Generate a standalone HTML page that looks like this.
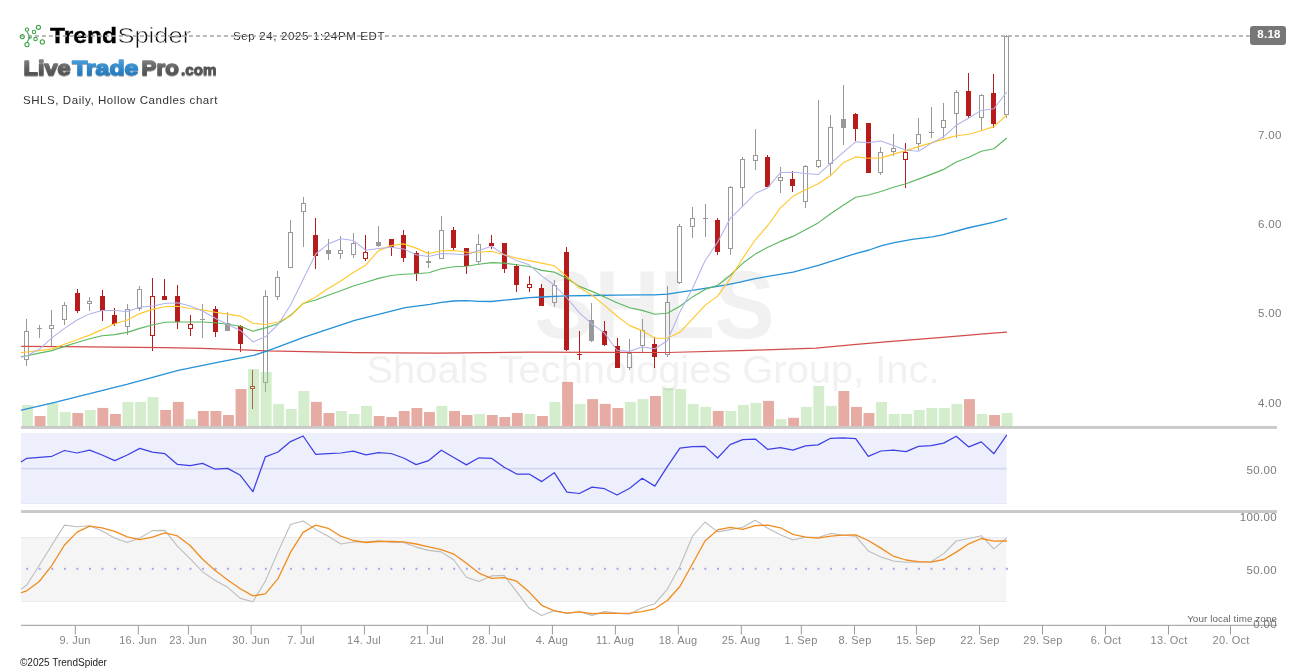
<!DOCTYPE html>
<html><head><meta charset="utf-8"><title>SHLS chart</title>
<style>
html,body{margin:0;padding:0;background:#fff;}
body{width:1307px;height:672px;position:relative;overflow:hidden;font-family:"Liberation Sans",sans-serif;}
.t{will-change:transform;position:absolute;white-space:nowrap;line-height:14px;font-size:11px;color:#777;}
.ax{font-size:11.5px;letter-spacing:0.35px;color:#7a7a7a;}
.r{text-align:right;}
.xl{width:80px;text-align:center;font-size:11px;letter-spacing:0.2px;color:#858585;}
.tz{text-align:right;font-size:9.8px;color:#666;letter-spacing:0.1px;}
.pl{text-align:center;color:#fff;font-weight:bold;font-size:11.5px;letter-spacing:0.3px;}
.cp{font-size:10px;color:#222;}
.ttl{font-size:11.5px;color:#333;letter-spacing:0.57px;}
.dt{font-size:11.5px;color:#333;letter-spacing:0.64px;}
#logo{position:absolute;left:0;top:0;will-change:transform;}
</style></head><body>
<svg width="1307" height="672" viewBox="0 0 1307 672" style="position:absolute;left:0;top:0;will-change:transform">
<defs>
<linearGradient id="gg" x1="0" y1="0" x2="0" y2="1"><stop offset="0" stop-color="#8e8e8e"/><stop offset="0.55" stop-color="#5e5e5e"/><stop offset="1" stop-color="#4a4a4a"/></linearGradient>
<linearGradient id="gb" x1="0" y1="0" x2="0" y2="1"><stop offset="0" stop-color="#55a9e0"/><stop offset="0.55" stop-color="#2f86c8"/><stop offset="1" stop-color="#2170b0"/></linearGradient>
<filter id="sh" x="-5%" y="-20%" width="110%" height="150%"><feGaussianBlur in="SourceAlpha" stdDeviation="0.7"/><feOffset dx="0" dy="0.8" result="b"/><feComponentTransfer><feFuncA type="linear" slope="0.35"/></feComponentTransfer><feMerge><feMergeNode/><feMergeNode in="SourceGraphic"/></feMerge></filter>
</defs>
<rect width="1307" height="672" fill="#ffffff"/>
<g id="wm" font-family="Liberation Sans, sans-serif" text-anchor="middle">
<text x="654.5" y="337.6" font-size="97" font-weight="bold" fill="#f1f1f1" textLength="240.5" lengthAdjust="spacingAndGlyphs">SHLS</text>
<text x="653" y="383.3" font-size="38" fill="#f1f1f1" textLength="573" lengthAdjust="spacingAndGlyphs">Shoals Technologies Group, Inc.</text>
</g>
<g id="rsi">
<rect x="21" y="433.6" width="985.5" height="70.4" fill="#edf0fc"/>
<rect x="21" y="467.8" width="985.5" height="1.7" fill="#d3d6ee"/>
<rect x="21" y="433.6" width="985.5" height="0.8" fill="#e3e6f7"/>
<rect x="21" y="503.2" width="985.5" height="0.8" fill="#e3e6f7"/>
<path d="M21.4 461.8 L26.8 458.3 L39.3 457.3 L51.9 456.3 L64.5 450.5 L77 453 L89.6 450.2 L102.1 455 L114.7 460.6 L127.3 455 L139.8 448.4 L152.4 452.2 L164.9 453.7 L177.5 464.4 L190.1 465.6 L202.6 463.4 L215.2 469.2 L227.7 468.4 L240.3 475.3 L252.9 491.7 L265.4 456.8 L278 452 L290.5 441.6 L303.1 436 L315.7 454.3 L328.2 453.7 L340.8 453 L353.3 451.2 L365.9 454.8 L378.5 452.7 L391 453.5 L403.6 458 L416.1 464.6 L428.7 460.6 L441.3 450.2 L453.8 457.5 L466.4 464.9 L478.9 457.8 L491.5 458.3 L504.1 467.2 L516.6 474 L529.2 474 L541.7 481.6 L554.3 472.7 L566.9 492.2 L579.4 493.5 L592 487.1 L604.5 488.7 L617.1 495 L629.7 488.2 L642.2 478.3 L654.8 486.1 L667.3 466.6 L679.9 448.2 L692.5 446.7 L705 446.4 L717.6 458 L730.1 444.6 L742.7 439.6 L755.3 439.1 L767.8 449.4 L780.4 447.7 L792.9 450.2 L805.5 445.9 L818.1 444.9 L830.6 438.3 L843.2 437.8 L855.7 438.6 L868.3 456.3 L880.9 451 L893.4 450.2 L906 451.7 L918.5 446.4 L931.1 445.6 L943.7 443.1 L956.2 436.3 L968.8 446.9 L981.3 441.9 L993.9 453.7 L1006.5 435.3" fill="none" stroke="#3f3fe6" stroke-width="1.25" stroke-linejoin="round" stroke-linecap="round" />
</g>
<g id="stoch">
<rect x="21" y="537.2" width="985.5" height="64.6" fill="#f5f5f5"/>
<rect x="21" y="537.2" width="985.5" height="0.8" fill="#e6e6f2"/>
<rect x="21" y="601" width="985.5" height="0.8" fill="#e6e6f2"/>
<rect x="26.2" y="567.8" width="2" height="2" fill="#a6a6f0"/>
<rect x="38.7" y="567.8" width="2" height="2" fill="#a6a6f0"/>
<rect x="51.3" y="567.8" width="2" height="2" fill="#a6a6f0"/>
<rect x="63.9" y="567.8" width="2" height="2" fill="#a6a6f0"/>
<rect x="76.4" y="567.8" width="2" height="2" fill="#a6a6f0"/>
<rect x="89" y="567.8" width="2" height="2" fill="#a6a6f0"/>
<rect x="101.5" y="567.8" width="2" height="2" fill="#a6a6f0"/>
<rect x="114.1" y="567.8" width="2" height="2" fill="#a6a6f0"/>
<rect x="126.7" y="567.8" width="2" height="2" fill="#a6a6f0"/>
<rect x="139.2" y="567.8" width="2" height="2" fill="#a6a6f0"/>
<rect x="151.8" y="567.8" width="2" height="2" fill="#a6a6f0"/>
<rect x="164.3" y="567.8" width="2" height="2" fill="#a6a6f0"/>
<rect x="176.9" y="567.8" width="2" height="2" fill="#a6a6f0"/>
<rect x="189.5" y="567.8" width="2" height="2" fill="#a6a6f0"/>
<rect x="202" y="567.8" width="2" height="2" fill="#a6a6f0"/>
<rect x="214.6" y="567.8" width="2" height="2" fill="#a6a6f0"/>
<rect x="227.1" y="567.8" width="2" height="2" fill="#a6a6f0"/>
<rect x="239.7" y="567.8" width="2" height="2" fill="#a6a6f0"/>
<rect x="252.3" y="567.8" width="2" height="2" fill="#a6a6f0"/>
<rect x="264.8" y="567.8" width="2" height="2" fill="#a6a6f0"/>
<rect x="277.4" y="567.8" width="2" height="2" fill="#a6a6f0"/>
<rect x="289.9" y="567.8" width="2" height="2" fill="#a6a6f0"/>
<rect x="302.5" y="567.8" width="2" height="2" fill="#a6a6f0"/>
<rect x="315.1" y="567.8" width="2" height="2" fill="#a6a6f0"/>
<rect x="327.6" y="567.8" width="2" height="2" fill="#a6a6f0"/>
<rect x="340.2" y="567.8" width="2" height="2" fill="#a6a6f0"/>
<rect x="352.7" y="567.8" width="2" height="2" fill="#a6a6f0"/>
<rect x="365.3" y="567.8" width="2" height="2" fill="#a6a6f0"/>
<rect x="377.9" y="567.8" width="2" height="2" fill="#a6a6f0"/>
<rect x="390.4" y="567.8" width="2" height="2" fill="#a6a6f0"/>
<rect x="403" y="567.8" width="2" height="2" fill="#a6a6f0"/>
<rect x="415.5" y="567.8" width="2" height="2" fill="#a6a6f0"/>
<rect x="428.1" y="567.8" width="2" height="2" fill="#a6a6f0"/>
<rect x="440.7" y="567.8" width="2" height="2" fill="#a6a6f0"/>
<rect x="453.2" y="567.8" width="2" height="2" fill="#a6a6f0"/>
<rect x="465.8" y="567.8" width="2" height="2" fill="#a6a6f0"/>
<rect x="478.3" y="567.8" width="2" height="2" fill="#a6a6f0"/>
<rect x="490.9" y="567.8" width="2" height="2" fill="#a6a6f0"/>
<rect x="503.5" y="567.8" width="2" height="2" fill="#a6a6f0"/>
<rect x="516" y="567.8" width="2" height="2" fill="#a6a6f0"/>
<rect x="528.6" y="567.8" width="2" height="2" fill="#a6a6f0"/>
<rect x="541.1" y="567.8" width="2" height="2" fill="#a6a6f0"/>
<rect x="553.7" y="567.8" width="2" height="2" fill="#a6a6f0"/>
<rect x="566.3" y="567.8" width="2" height="2" fill="#a6a6f0"/>
<rect x="578.8" y="567.8" width="2" height="2" fill="#a6a6f0"/>
<rect x="591.4" y="567.8" width="2" height="2" fill="#a6a6f0"/>
<rect x="603.9" y="567.8" width="2" height="2" fill="#a6a6f0"/>
<rect x="616.5" y="567.8" width="2" height="2" fill="#a6a6f0"/>
<rect x="629.1" y="567.8" width="2" height="2" fill="#a6a6f0"/>
<rect x="641.6" y="567.8" width="2" height="2" fill="#a6a6f0"/>
<rect x="654.2" y="567.8" width="2" height="2" fill="#a6a6f0"/>
<rect x="666.7" y="567.8" width="2" height="2" fill="#a6a6f0"/>
<rect x="679.3" y="567.8" width="2" height="2" fill="#a6a6f0"/>
<rect x="691.9" y="567.8" width="2" height="2" fill="#a6a6f0"/>
<rect x="704.4" y="567.8" width="2" height="2" fill="#a6a6f0"/>
<rect x="717" y="567.8" width="2" height="2" fill="#a6a6f0"/>
<rect x="729.5" y="567.8" width="2" height="2" fill="#a6a6f0"/>
<rect x="742.1" y="567.8" width="2" height="2" fill="#a6a6f0"/>
<rect x="754.7" y="567.8" width="2" height="2" fill="#a6a6f0"/>
<rect x="767.2" y="567.8" width="2" height="2" fill="#a6a6f0"/>
<rect x="779.8" y="567.8" width="2" height="2" fill="#a6a6f0"/>
<rect x="792.3" y="567.8" width="2" height="2" fill="#a6a6f0"/>
<rect x="804.9" y="567.8" width="2" height="2" fill="#a6a6f0"/>
<rect x="817.5" y="567.8" width="2" height="2" fill="#a6a6f0"/>
<rect x="830" y="567.8" width="2" height="2" fill="#a6a6f0"/>
<rect x="842.6" y="567.8" width="2" height="2" fill="#a6a6f0"/>
<rect x="855.1" y="567.8" width="2" height="2" fill="#a6a6f0"/>
<rect x="867.7" y="567.8" width="2" height="2" fill="#a6a6f0"/>
<rect x="880.3" y="567.8" width="2" height="2" fill="#a6a6f0"/>
<rect x="892.8" y="567.8" width="2" height="2" fill="#a6a6f0"/>
<rect x="905.4" y="567.8" width="2" height="2" fill="#a6a6f0"/>
<rect x="917.9" y="567.8" width="2" height="2" fill="#a6a6f0"/>
<rect x="930.5" y="567.8" width="2" height="2" fill="#a6a6f0"/>
<rect x="943.1" y="567.8" width="2" height="2" fill="#a6a6f0"/>
<rect x="955.6" y="567.8" width="2" height="2" fill="#a6a6f0"/>
<rect x="968.2" y="567.8" width="2" height="2" fill="#a6a6f0"/>
<rect x="980.7" y="567.8" width="2" height="2" fill="#a6a6f0"/>
<rect x="993.3" y="567.8" width="2" height="2" fill="#a6a6f0"/>
<rect x="1005.9" y="567.8" width="2" height="2" fill="#a6a6f0"/>
<path d="M21.4 589.1 L26.8 585 L39.3 565.3 L51.9 545 L64.5 525.1 L77 526.8 L89.6 525.8 L102.1 531.1 L114.7 538 L127.3 542.5 L139.8 538 L152.4 530.6 L164.9 530.4 L177.5 546.3 L190.1 558.7 L202.6 571.9 L215.2 580.5 L227.7 587.3 L240.3 598.4 L252.9 601.7 L265.4 581 L278 551.9 L290.5 524.5 L303.1 521 L315.7 529.4 L328.2 536.2 L340.8 544 L353.3 542 L365.9 541.8 L378.5 540.7 L391 542.3 L403.6 542.5 L416.1 547.1 L428.7 550.4 L441.3 551.9 L453.8 560 L466.4 577.2 L478.9 581.5 L491.5 575.9 L504.1 575.4 L516.6 591.6 L529.2 608.3 L541.7 615.4 L554.3 610.6 L566.9 613.4 L579.4 611.6 L592 615.4 L604.5 611.6 L617.1 613.1 L629.7 614.1 L642.2 607.8 L654.8 603.7 L667.3 589.3 L679.9 566.3 L692.5 536.2 L705 522 L717.6 531.9 L730.1 529.6 L742.7 527.3 L755.3 520.2 L767.8 528.3 L780.4 534.7 L792.9 540 L805.5 537.2 L818.1 537.4 L830.6 533.4 L843.2 535.2 L855.7 536.2 L868.3 550.9 L880.9 556.9 L893.4 561 L906 562.2 L918.5 562.2 L931.1 561.7 L943.7 553.6 L956.2 541 L968.8 538.5 L981.3 535.7 L993.9 548.8 L1006.5 538.2" fill="none" stroke="#bdbdbd" stroke-width="1.1" stroke-linejoin="round" stroke-linecap="round" />
<path d="M21.4 592.6 L26.8 590.8 L39.3 581.5 L51.9 565.3 L64.5 545 L77 532.1 L89.6 526.1 L102.1 527.8 L114.7 531.4 L127.3 536.9 L139.8 539.7 L152.4 537.2 L164.9 532.9 L177.5 535.9 L190.1 545.5 L202.6 559.2 L215.2 570.6 L227.7 580 L240.3 588.8 L252.9 595.9 L265.4 593.9 L278 578.7 L290.5 552.4 L303.1 532.4 L315.7 525.1 L328.2 528.3 L340.8 536.2 L353.3 540.5 L365.9 542.5 L378.5 541.5 L391 541.5 L403.6 541.8 L416.1 544 L428.7 546.8 L441.3 549.6 L453.8 554.1 L466.4 563.3 L478.9 573.1 L491.5 578.4 L504.1 577.7 L516.6 581.2 L529.2 592.1 L541.7 605.3 L554.3 610.8 L566.9 613.1 L579.4 611.8 L592 613.6 L604.5 613.1 L617.1 613.4 L629.7 613.1 L642.2 611.6 L654.8 608.8 L667.3 600.5 L679.9 586.5 L692.5 563.8 L705 541 L717.6 529.9 L730.1 527.3 L742.7 529.4 L755.3 525.6 L767.8 525.1 L780.4 527.8 L792.9 534.4 L805.5 537.2 L818.1 538.2 L830.6 536.2 L843.2 535.2 L855.7 534.9 L868.3 540.5 L880.9 548.1 L893.4 556.2 L906 560 L918.5 561.7 L931.1 562.2 L943.7 559.5 L956.2 552.1 L968.8 543.8 L981.3 538.5 L993.9 541.2 L1006.5 541" fill="none" stroke="#f28c1e" stroke-width="1.3" stroke-linejoin="round" stroke-linecap="round" />
</g>
<rect x="21" y="426" width="1256" height="2.9" fill="#c9c9c9"/>
<rect x="21" y="510.1" width="1256" height="2.9" fill="#c9c9c9"/>
<g id="candles" shape-rendering="crispEdges">
<rect x="26" y="319" width="1" height="12" fill="#999999"/>
<rect x="26" y="360" width="1" height="6" fill="#999999"/>
<rect x="24.5" y="331.5" width="4" height="28" fill="none" stroke="#999999" stroke-width="1"/>
<rect x="39" y="325" width="1" height="13" fill="#999999"/>
<rect x="37" y="328" width="5" height="1" fill="#999999"/>
<rect x="51" y="310" width="1" height="15" fill="#999999"/>
<rect x="51" y="329" width="1" height="17" fill="#999999"/>
<rect x="49.5" y="325.5" width="4" height="3" fill="none" stroke="#999999" stroke-width="1"/>
<rect x="64" y="302" width="1" height="3" fill="#999999"/>
<rect x="64" y="320" width="1" height="5" fill="#999999"/>
<rect x="62.5" y="305.5" width="4" height="14" fill="none" stroke="#999999" stroke-width="1"/>
<rect x="77" y="289" width="1" height="24" fill="#b71c1c"/>
<rect x="75" y="293" width="5" height="18" fill="#b71c1c"/>
<rect x="89" y="297" width="1" height="4" fill="#999999"/>
<rect x="89" y="304" width="1" height="7" fill="#999999"/>
<rect x="87.5" y="301.5" width="4" height="2" fill="none" stroke="#999999" stroke-width="1"/>
<rect x="102" y="290" width="1" height="31" fill="#b71c1c"/>
<rect x="100" y="296" width="5" height="15" fill="#b71c1c"/>
<rect x="114" y="308" width="1" height="18" fill="#b71c1c"/>
<rect x="112" y="315" width="5" height="9" fill="#b71c1c"/>
<rect x="127" y="304" width="1" height="5" fill="#999999"/>
<rect x="127" y="327" width="1" height="8" fill="#999999"/>
<rect x="125.5" y="309.5" width="4" height="17" fill="none" stroke="#999999" stroke-width="1"/>
<rect x="139" y="286" width="1" height="3" fill="#999999"/>
<rect x="139" y="309" width="1" height="2" fill="#999999"/>
<rect x="137.5" y="289.5" width="4" height="19" fill="none" stroke="#999999" stroke-width="1"/>
<rect x="152" y="278" width="1" height="18" fill="#b71c1c"/>
<rect x="152" y="336" width="1" height="15" fill="#b71c1c"/>
<rect x="150.5" y="296.5" width="4" height="39" fill="none" stroke="#b71c1c" stroke-width="1"/>
<rect x="164" y="279" width="1" height="21" fill="#b71c1c"/>
<rect x="162" y="296" width="5" height="4" fill="#b71c1c"/>
<rect x="177" y="285" width="1" height="44" fill="#b71c1c"/>
<rect x="175" y="296" width="5" height="26" fill="#b71c1c"/>
<rect x="190" y="315" width="1" height="9" fill="#b71c1c"/>
<rect x="190" y="329" width="1" height="7" fill="#b71c1c"/>
<rect x="188.5" y="324.5" width="4" height="4" fill="none" stroke="#b71c1c" stroke-width="1"/>
<rect x="202" y="304" width="1" height="34" fill="#999999"/>
<rect x="200" y="319" width="5" height="1" fill="#999999"/>
<rect x="215" y="306" width="1" height="31" fill="#b71c1c"/>
<rect x="213" y="309" width="5" height="23" fill="#b71c1c"/>
<rect x="227" y="312" width="1" height="19" fill="#999999"/>
<rect x="225" y="323" width="5" height="8" fill="#999999"/>
<rect x="240" y="325" width="1" height="27" fill="#b71c1c"/>
<rect x="238" y="326" width="5" height="18" fill="#b71c1c"/>
<rect x="252" y="370" width="1" height="16" fill="#b71c1c"/>
<rect x="252" y="389" width="1" height="20" fill="#b71c1c"/>
<rect x="250.5" y="386.5" width="4" height="2" fill="none" stroke="#b71c1c" stroke-width="1"/>
<rect x="265" y="290" width="1" height="6" fill="#999999"/>
<rect x="265" y="383" width="1" height="9" fill="#999999"/>
<rect x="263.5" y="296.5" width="4" height="86" fill="none" stroke="#999999" stroke-width="1"/>
<rect x="277" y="271" width="1" height="6" fill="#999999"/>
<rect x="277" y="297" width="1" height="3" fill="#999999"/>
<rect x="275.5" y="277.5" width="4" height="19" fill="none" stroke="#999999" stroke-width="1"/>
<rect x="290" y="220" width="1" height="12" fill="#999999"/>
<rect x="288.5" y="232.5" width="4" height="35" fill="none" stroke="#999999" stroke-width="1"/>
<rect x="303" y="197" width="1" height="6" fill="#999999"/>
<rect x="303" y="212" width="1" height="35" fill="#999999"/>
<rect x="301.5" y="203.5" width="4" height="8" fill="none" stroke="#999999" stroke-width="1"/>
<rect x="315" y="218" width="1" height="51" fill="#b71c1c"/>
<rect x="313" y="235" width="5" height="21" fill="#b71c1c"/>
<rect x="328" y="239" width="1" height="21" fill="#999999"/>
<rect x="326" y="250" width="5" height="4" fill="#999999"/>
<rect x="340" y="236" width="1" height="14" fill="#999999"/>
<rect x="340" y="254" width="1" height="5" fill="#999999"/>
<rect x="338.5" y="250.5" width="4" height="3" fill="none" stroke="#999999" stroke-width="1"/>
<rect x="353" y="233" width="1" height="10" fill="#999999"/>
<rect x="353" y="255" width="1" height="3" fill="#999999"/>
<rect x="351.5" y="243.5" width="4" height="11" fill="none" stroke="#999999" stroke-width="1"/>
<rect x="365" y="235" width="1" height="17" fill="#b71c1c"/>
<rect x="365" y="259" width="1" height="2" fill="#b71c1c"/>
<rect x="363.5" y="252.5" width="4" height="6" fill="none" stroke="#b71c1c" stroke-width="1"/>
<rect x="378" y="226" width="1" height="21" fill="#999999"/>
<rect x="376" y="242" width="5" height="4" fill="#999999"/>
<rect x="391" y="239" width="1" height="17" fill="#b71c1c"/>
<rect x="389" y="239" width="5" height="8" fill="#b71c1c"/>
<rect x="403" y="230" width="1" height="32" fill="#b71c1c"/>
<rect x="401" y="235" width="5" height="23" fill="#b71c1c"/>
<rect x="416" y="251" width="1" height="30" fill="#b71c1c"/>
<rect x="414" y="253" width="5" height="21" fill="#b71c1c"/>
<rect x="428" y="251" width="1" height="17" fill="#999999"/>
<rect x="426" y="261" width="5" height="2" fill="#999999"/>
<rect x="441" y="216" width="1" height="14" fill="#999999"/>
<rect x="439.5" y="230.5" width="4" height="28" fill="none" stroke="#999999" stroke-width="1"/>
<rect x="453" y="227" width="1" height="23" fill="#b71c1c"/>
<rect x="451" y="230" width="5" height="18" fill="#b71c1c"/>
<rect x="466" y="248" width="1" height="26" fill="#b71c1c"/>
<rect x="464" y="248" width="5" height="18" fill="#b71c1c"/>
<rect x="478" y="234" width="1" height="10" fill="#999999"/>
<rect x="478" y="262" width="1" height="2" fill="#999999"/>
<rect x="476.5" y="244.5" width="4" height="17" fill="none" stroke="#999999" stroke-width="1"/>
<rect x="491" y="235" width="1" height="14" fill="#b71c1c"/>
<rect x="489" y="243" width="5" height="3" fill="#b71c1c"/>
<rect x="504" y="243" width="1" height="30" fill="#b71c1c"/>
<rect x="502" y="243" width="5" height="26" fill="#b71c1c"/>
<rect x="516" y="264" width="1" height="28" fill="#b71c1c"/>
<rect x="514" y="266" width="5" height="19" fill="#b71c1c"/>
<rect x="529" y="276" width="1" height="8" fill="#b71c1c"/>
<rect x="529" y="288" width="1" height="4" fill="#b71c1c"/>
<rect x="527.5" y="284.5" width="4" height="3" fill="none" stroke="#b71c1c" stroke-width="1"/>
<rect x="541" y="284" width="1" height="22" fill="#b71c1c"/>
<rect x="539" y="288" width="5" height="18" fill="#b71c1c"/>
<rect x="554" y="280" width="1" height="5" fill="#999999"/>
<rect x="554" y="303" width="1" height="4" fill="#999999"/>
<rect x="552.5" y="285.5" width="4" height="17" fill="none" stroke="#999999" stroke-width="1"/>
<rect x="566" y="247" width="1" height="104" fill="#b71c1c"/>
<rect x="564" y="252" width="5" height="98" fill="#b71c1c"/>
<rect x="579" y="331" width="1" height="29" fill="#b71c1c"/>
<rect x="577" y="354" width="5" height="1" fill="#b71c1c"/>
<rect x="591" y="303" width="1" height="39" fill="#999999"/>
<rect x="589" y="320" width="5" height="21" fill="#999999"/>
<rect x="604" y="321" width="1" height="25" fill="#b71c1c"/>
<rect x="602" y="331" width="5" height="14" fill="#b71c1c"/>
<rect x="617" y="338" width="1" height="30" fill="#b71c1c"/>
<rect x="615" y="346" width="5" height="22" fill="#b71c1c"/>
<rect x="629" y="339" width="1" height="14" fill="#999999"/>
<rect x="629" y="368" width="1" height="2" fill="#999999"/>
<rect x="627.5" y="353.5" width="4" height="14" fill="none" stroke="#999999" stroke-width="1"/>
<rect x="642" y="319" width="1" height="11" fill="#999999"/>
<rect x="642" y="346" width="1" height="6" fill="#999999"/>
<rect x="640.5" y="330.5" width="4" height="15" fill="none" stroke="#999999" stroke-width="1"/>
<rect x="654" y="337" width="1" height="31" fill="#b71c1c"/>
<rect x="652" y="344" width="5" height="13" fill="#b71c1c"/>
<rect x="667" y="286" width="1" height="16" fill="#999999"/>
<rect x="667" y="355" width="1" height="2" fill="#999999"/>
<rect x="665.5" y="302.5" width="4" height="52" fill="none" stroke="#999999" stroke-width="1"/>
<rect x="679" y="224" width="1" height="2" fill="#999999"/>
<rect x="679" y="283" width="1" height="1" fill="#999999"/>
<rect x="677.5" y="226.5" width="4" height="56" fill="none" stroke="#999999" stroke-width="1"/>
<rect x="692" y="207" width="1" height="11" fill="#999999"/>
<rect x="692" y="227" width="1" height="11" fill="#999999"/>
<rect x="690.5" y="218.5" width="4" height="8" fill="none" stroke="#999999" stroke-width="1"/>
<rect x="705" y="204" width="1" height="33" fill="#999999"/>
<rect x="703" y="218" width="5" height="1" fill="#999999"/>
<rect x="717" y="218" width="1" height="37" fill="#b71c1c"/>
<rect x="715" y="220" width="5" height="32" fill="#b71c1c"/>
<rect x="730" y="186" width="1" height="1" fill="#999999"/>
<rect x="730" y="249" width="1" height="6" fill="#999999"/>
<rect x="728.5" y="187.5" width="4" height="61" fill="none" stroke="#999999" stroke-width="1"/>
<rect x="742" y="157" width="1" height="2" fill="#999999"/>
<rect x="742" y="188" width="1" height="18" fill="#999999"/>
<rect x="740.5" y="159.5" width="4" height="28" fill="none" stroke="#999999" stroke-width="1"/>
<rect x="755" y="129" width="1" height="26" fill="#999999"/>
<rect x="755" y="161" width="1" height="9" fill="#999999"/>
<rect x="753.5" y="155.5" width="4" height="5" fill="none" stroke="#999999" stroke-width="1"/>
<rect x="767" y="155" width="1" height="32" fill="#b71c1c"/>
<rect x="765" y="157" width="5" height="30" fill="#b71c1c"/>
<rect x="780" y="167" width="1" height="10" fill="#999999"/>
<rect x="780" y="181" width="1" height="12" fill="#999999"/>
<rect x="778.5" y="177.5" width="4" height="3" fill="none" stroke="#999999" stroke-width="1"/>
<rect x="792" y="171" width="1" height="21" fill="#b71c1c"/>
<rect x="790" y="179" width="5" height="7" fill="#b71c1c"/>
<rect x="805" y="165" width="1" height="1" fill="#999999"/>
<rect x="805" y="202" width="1" height="6" fill="#999999"/>
<rect x="803.5" y="166.5" width="4" height="35" fill="none" stroke="#999999" stroke-width="1"/>
<rect x="818" y="100" width="1" height="60" fill="#999999"/>
<rect x="818" y="167" width="1" height="1" fill="#999999"/>
<rect x="816.5" y="160.5" width="4" height="6" fill="none" stroke="#999999" stroke-width="1"/>
<rect x="830" y="115" width="1" height="12" fill="#999999"/>
<rect x="830" y="164" width="1" height="11" fill="#999999"/>
<rect x="828.5" y="127.5" width="4" height="36" fill="none" stroke="#999999" stroke-width="1"/>
<rect x="843" y="85" width="1" height="60" fill="#999999"/>
<rect x="841" y="119" width="5" height="9" fill="#999999"/>
<rect x="855" y="113" width="1" height="28" fill="#b71c1c"/>
<rect x="853" y="114" width="5" height="15" fill="#b71c1c"/>
<rect x="868" y="123" width="1" height="50" fill="#b71c1c"/>
<rect x="866" y="123" width="5" height="50" fill="#b71c1c"/>
<rect x="880" y="147" width="1" height="5" fill="#999999"/>
<rect x="880" y="173" width="1" height="2" fill="#999999"/>
<rect x="878.5" y="152.5" width="4" height="20" fill="none" stroke="#999999" stroke-width="1"/>
<rect x="893" y="134" width="1" height="14" fill="#999999"/>
<rect x="893" y="152" width="1" height="4" fill="#999999"/>
<rect x="891.5" y="148.5" width="4" height="3" fill="none" stroke="#999999" stroke-width="1"/>
<rect x="905" y="143" width="1" height="9" fill="#b71c1c"/>
<rect x="905" y="160" width="1" height="28" fill="#b71c1c"/>
<rect x="903.5" y="152.5" width="4" height="7" fill="none" stroke="#b71c1c" stroke-width="1"/>
<rect x="918" y="118" width="1" height="16" fill="#999999"/>
<rect x="918" y="144" width="1" height="6" fill="#999999"/>
<rect x="916.5" y="134.5" width="4" height="9" fill="none" stroke="#999999" stroke-width="1"/>
<rect x="931" y="107" width="1" height="31" fill="#999999"/>
<rect x="929" y="132" width="5" height="1" fill="#999999"/>
<rect x="943" y="103" width="1" height="17" fill="#999999"/>
<rect x="943" y="128" width="1" height="10" fill="#999999"/>
<rect x="941.5" y="120.5" width="4" height="7" fill="none" stroke="#999999" stroke-width="1"/>
<rect x="956" y="90" width="1" height="2" fill="#999999"/>
<rect x="956" y="114" width="1" height="24" fill="#999999"/>
<rect x="954.5" y="92.5" width="4" height="21" fill="none" stroke="#999999" stroke-width="1"/>
<rect x="968" y="73" width="1" height="45" fill="#b71c1c"/>
<rect x="966" y="91" width="5" height="25" fill="#b71c1c"/>
<rect x="981" y="94" width="1" height="1" fill="#999999"/>
<rect x="981" y="118" width="1" height="13" fill="#999999"/>
<rect x="979.5" y="95.5" width="4" height="22" fill="none" stroke="#999999" stroke-width="1"/>
<rect x="993" y="74" width="1" height="54" fill="#b71c1c"/>
<rect x="991" y="93" width="5" height="31" fill="#b71c1c"/>
<rect x="1006" y="35" width="1" height="1" fill="#999999"/>
<rect x="1006" y="115" width="1" height="3" fill="#999999"/>
<rect x="1004.5" y="36.5" width="4" height="78" fill="none" stroke="#999999" stroke-width="1"/>
</g>
<g id="vol">
<rect x="22" y="404.9" width="10.9" height="21.1" fill="rgba(145,210,130,0.4)"/>
<rect x="34.6" y="416" width="10.9" height="10" fill="rgba(192,48,25,0.4)"/>
<rect x="47.2" y="403.1" width="10.9" height="22.9" fill="rgba(145,210,130,0.4)"/>
<rect x="59.7" y="412" width="10.9" height="14" fill="rgba(145,210,130,0.4)"/>
<rect x="72.3" y="413" width="10.9" height="13" fill="rgba(192,48,25,0.4)"/>
<rect x="84.8" y="410" width="10.9" height="16" fill="rgba(145,210,130,0.4)"/>
<rect x="97.4" y="407.9" width="10.9" height="18.1" fill="rgba(192,48,25,0.4)"/>
<rect x="110" y="414" width="10.9" height="12" fill="rgba(192,48,25,0.4)"/>
<rect x="122.5" y="401.9" width="10.9" height="24.1" fill="rgba(145,210,130,0.4)"/>
<rect x="135.1" y="401.9" width="10.9" height="24.1" fill="rgba(145,210,130,0.4)"/>
<rect x="147.6" y="397.1" width="10.9" height="28.9" fill="rgba(145,210,130,0.4)"/>
<rect x="160.2" y="410" width="10.9" height="16" fill="rgba(192,48,25,0.4)"/>
<rect x="172.8" y="401.9" width="10.9" height="24.1" fill="rgba(192,48,25,0.4)"/>
<rect x="185.3" y="419.1" width="10.9" height="6.9" fill="rgba(145,210,130,0.4)"/>
<rect x="197.9" y="411" width="10.9" height="15" fill="rgba(192,48,25,0.4)"/>
<rect x="210.4" y="411" width="10.9" height="15" fill="rgba(192,48,25,0.4)"/>
<rect x="223" y="415" width="10.9" height="11" fill="rgba(192,48,25,0.4)"/>
<rect x="235.6" y="389" width="10.9" height="37" fill="rgba(192,48,25,0.4)"/>
<rect x="248.1" y="369" width="10.9" height="57" fill="rgba(145,210,130,0.4)"/>
<rect x="260.7" y="372" width="10.9" height="54" fill="rgba(145,210,130,0.4)"/>
<rect x="273.2" y="403.9" width="10.9" height="22.1" fill="rgba(145,210,130,0.4)"/>
<rect x="285.8" y="409" width="10.9" height="17" fill="rgba(145,210,130,0.4)"/>
<rect x="298.4" y="391" width="10.9" height="35" fill="rgba(145,210,130,0.4)"/>
<rect x="310.9" y="401.9" width="10.9" height="24.1" fill="rgba(192,48,25,0.4)"/>
<rect x="323.5" y="413" width="10.9" height="13" fill="rgba(192,48,25,0.4)"/>
<rect x="336" y="411" width="10.9" height="15" fill="rgba(145,210,130,0.4)"/>
<rect x="348.6" y="414" width="10.9" height="12" fill="rgba(145,210,130,0.4)"/>
<rect x="361.1" y="405.9" width="10.9" height="20.1" fill="rgba(145,210,130,0.4)"/>
<rect x="373.7" y="416" width="10.9" height="10" fill="rgba(192,48,25,0.4)"/>
<rect x="386.3" y="417" width="10.9" height="9" fill="rgba(192,48,25,0.4)"/>
<rect x="398.8" y="411" width="10.9" height="15" fill="rgba(192,48,25,0.4)"/>
<rect x="411.4" y="408" width="10.9" height="18" fill="rgba(192,48,25,0.4)"/>
<rect x="424" y="412" width="10.9" height="14" fill="rgba(192,48,25,0.4)"/>
<rect x="436.5" y="405.9" width="10.9" height="20.1" fill="rgba(145,210,130,0.4)"/>
<rect x="449.1" y="411" width="10.9" height="15" fill="rgba(192,48,25,0.4)"/>
<rect x="461.6" y="415" width="10.9" height="11" fill="rgba(192,48,25,0.4)"/>
<rect x="474.2" y="414" width="10.9" height="12" fill="rgba(145,210,130,0.4)"/>
<rect x="486.8" y="415" width="10.9" height="11" fill="rgba(192,48,25,0.4)"/>
<rect x="499.3" y="417" width="10.9" height="9" fill="rgba(192,48,25,0.4)"/>
<rect x="511.9" y="413" width="10.9" height="13" fill="rgba(192,48,25,0.4)"/>
<rect x="524.4" y="414" width="10.9" height="12" fill="rgba(145,210,130,0.4)"/>
<rect x="537" y="416" width="10.9" height="10" fill="rgba(192,48,25,0.4)"/>
<rect x="549.5" y="401.9" width="10.9" height="24.1" fill="rgba(145,210,130,0.4)"/>
<rect x="562.1" y="381.9" width="10.9" height="44.1" fill="rgba(192,48,25,0.4)"/>
<rect x="574.7" y="403.9" width="10.9" height="22.1" fill="rgba(145,210,130,0.4)"/>
<rect x="587.2" y="399.1" width="10.9" height="26.9" fill="rgba(192,48,25,0.4)"/>
<rect x="599.8" y="403.9" width="10.9" height="22.1" fill="rgba(192,48,25,0.4)"/>
<rect x="612.4" y="408" width="10.9" height="18" fill="rgba(192,48,25,0.4)"/>
<rect x="624.9" y="401.9" width="10.9" height="24.1" fill="rgba(145,210,130,0.4)"/>
<rect x="637.5" y="399.1" width="10.9" height="26.9" fill="rgba(145,210,130,0.4)"/>
<rect x="650" y="396" width="10.9" height="30" fill="rgba(192,48,25,0.4)"/>
<rect x="662.6" y="388" width="10.9" height="38" fill="rgba(145,210,130,0.4)"/>
<rect x="675.1" y="389" width="10.9" height="37" fill="rgba(145,210,130,0.4)"/>
<rect x="687.7" y="403.9" width="10.9" height="22.1" fill="rgba(145,210,130,0.4)"/>
<rect x="700.3" y="406.9" width="10.9" height="19.1" fill="rgba(145,210,130,0.4)"/>
<rect x="712.8" y="411" width="10.9" height="15" fill="rgba(192,48,25,0.4)"/>
<rect x="725.4" y="411" width="10.9" height="15" fill="rgba(145,210,130,0.4)"/>
<rect x="738" y="404.9" width="10.9" height="21.1" fill="rgba(145,210,130,0.4)"/>
<rect x="750.5" y="402.9" width="10.9" height="23.1" fill="rgba(145,210,130,0.4)"/>
<rect x="763.1" y="400.9" width="10.9" height="25.1" fill="rgba(192,48,25,0.4)"/>
<rect x="775.6" y="419.1" width="10.9" height="6.9" fill="rgba(145,210,130,0.4)"/>
<rect x="788.2" y="417.8" width="10.9" height="8.2" fill="rgba(192,48,25,0.4)"/>
<rect x="800.8" y="406.9" width="10.9" height="19.1" fill="rgba(145,210,130,0.4)"/>
<rect x="813.3" y="385.9" width="10.9" height="40.1" fill="rgba(145,210,130,0.4)"/>
<rect x="825.9" y="405.9" width="10.9" height="20.1" fill="rgba(145,210,130,0.4)"/>
<rect x="838.4" y="391" width="10.9" height="35" fill="rgba(192,48,25,0.4)"/>
<rect x="851" y="406.9" width="10.9" height="19.1" fill="rgba(192,48,25,0.4)"/>
<rect x="863.5" y="413" width="10.9" height="13" fill="rgba(192,48,25,0.4)"/>
<rect x="876.1" y="401.9" width="10.9" height="24.1" fill="rgba(145,210,130,0.4)"/>
<rect x="888.7" y="414" width="10.9" height="12" fill="rgba(145,210,130,0.4)"/>
<rect x="901.2" y="414" width="10.9" height="12" fill="rgba(145,210,130,0.4)"/>
<rect x="913.8" y="410" width="10.9" height="16" fill="rgba(145,210,130,0.4)"/>
<rect x="926.4" y="408" width="10.9" height="18" fill="rgba(145,210,130,0.4)"/>
<rect x="938.9" y="408" width="10.9" height="18" fill="rgba(145,210,130,0.4)"/>
<rect x="951.5" y="403.9" width="10.9" height="22.1" fill="rgba(145,210,130,0.4)"/>
<rect x="964" y="399.1" width="10.9" height="26.9" fill="rgba(192,48,25,0.4)"/>
<rect x="976.6" y="414" width="10.9" height="12" fill="rgba(145,210,130,0.4)"/>
<rect x="989.1" y="415" width="10.9" height="11" fill="rgba(192,48,25,0.4)"/>
<rect x="1001.7" y="413" width="10.9" height="13" fill="rgba(145,210,130,0.4)"/>
</g>
<g id="ma">
<path d="M21.6 346.4 L64 346.7 L114 347.2 L164 347.6 L202 348.4 L230 349.3 L267.6 350.9 L354.7 352.6 L440 353.1 L530 352.2 L600 352.3 L667.5 352.5 L740 350.7 L765.3 349.9 L815.9 348.1 L856.4 344.4 L891.8 341.3 L942.4 337.3 L993 333.2 L1006.6 332.2" fill="none" stroke="#d24c4c" stroke-width="1.2" stroke-linejoin="round" stroke-linecap="round" />
<path d="M21.4 410.2 L51.8 403.1 L127.7 384.2 L178.3 370.3 L220 361.9 L253.7 355.3 L267.6 350.9 L304.2 337.1 L354.7 320.3 L405.2 307.7 L430 304.4 L441.4 302.4 L453.6 301 L466.5 300.7 L478.5 301.3 L491.4 301.5 L504.4 300.2 L516.5 299 L529.5 297.7 L541.4 297 L554.6 296.3 L566.5 295.8 L591.6 295.5 L616.9 295.2 L642.1 294.8 L654.6 294.9 L667.5 294.1 L698.4 289.4 L725.3 285.2 L740 282.1 L755.2 278.6 L793.1 272.2 L818.4 265.4 L856.4 253.3 L869.1 250 L881.7 245.7 L894.4 242.6 L912.1 239.3 L932.3 236.8 L942.4 234.8 L967.7 228 L993 222.4 L1006.6 218.6" fill="none" stroke="#2491d8" stroke-width="1.3" stroke-linejoin="round" stroke-linecap="round" />
<path d="M21.4 356.5 L26.8 355.7 L39.3 353.1 L51.9 350.6 L64.5 346.4 L77 342.5 L89.6 338.8 L102.1 335.8 L114.7 334.6 L127.3 332.4 L139.8 328.4 L152.4 325 L164.9 322.3 L177.5 322 L190.1 322 L202.6 322 L215.2 322.8 L227.7 324.2 L240.3 326.2 L252.9 331.2 L265.4 327.9 L278 323.7 L290.5 315.3 L303.1 303.5 L315.7 300 L328.2 295.2 L340.8 290.8 L353.3 286 L365.9 282.2 L378.5 278.4 L391 275.5 L403.6 274.2 L416.1 273.8 L428.7 272.8 L441.3 268.7 L453.8 266.8 L466.4 266.2 L478.9 264.3 L491.5 262.6 L504.1 263.1 L516.6 264.8 L529.2 266.5 L541.7 270.4 L554.3 272.1 L566.9 278.5 L579.4 286.4 L592 291.4 L604.5 296.9 L617.1 302.8 L629.7 307.7 L642.2 310.4 L654.8 314.3 L667.3 313.3 L679.9 306.2 L692.5 296.9 L705 289.4 L717.6 285.2 L730.1 275.5 L742.7 263.3 L755.3 254.1 L767.8 247.3 L780.4 241.4 L792.9 236.4 L805.5 229.7 L818.1 222.9 L830.6 213.7 L843.2 205.3 L855.7 197.3 L868.3 195 L880.9 191.5 L893.4 187.2 L906 183.7 L918.5 179.1 L931.1 174.4 L943.7 169.4 L956.2 162 L968.8 157.2 L981.3 151.3 L993.9 148.8 L1006.5 138.2" fill="none" stroke="#5cb860" stroke-width="1.15" stroke-linejoin="round" stroke-linecap="round" />
<path d="M21.4 352.6 L26.8 352 L39.3 350.6 L51.9 348.9 L64.5 344.2 L77 339.7 L89.6 335.1 L102.1 329.6 L114.7 323.7 L127.3 320 L139.8 313.6 L152.4 309.4 L164.9 306.8 L177.5 306.3 L190.1 308.5 L202.6 309.9 L215.2 312.2 L227.7 314.1 L240.3 316.1 L252.9 323.3 L265.4 324.5 L278 322 L290.5 316.1 L303.1 303.5 L315.7 296.9 L328.2 288.6 L340.8 280.9 L353.3 272.5 L365.9 264.9 L378.5 250.6 L391 245.6 L403.6 243.9 L416.1 248.1 L428.7 253.6 L441.3 250.8 L453.8 250.5 L466.4 252.2 L478.9 252.2 L491.5 251.3 L504.1 254.7 L516.6 258.1 L529.2 260.6 L541.7 263.1 L554.3 265.7 L566.9 276.6 L579.4 287.6 L592 295.2 L604.5 305.4 L617.1 316.3 L629.7 325.6 L642.2 330.6 L654.8 338.2 L667.3 338.2 L679.9 332.3 L692.5 318.8 L705 305.4 L717.6 296.1 L730.1 278.8 L742.7 258.3 L755.3 239.8 L767.8 225.5 L780.4 207.8 L792.9 196.3 L805.5 189.8 L818.1 183.8 L830.6 175.6 L843.2 162.8 L855.7 156.9 L868.3 158.2 L880.9 157.9 L893.4 154.1 L906 150.6 L918.5 146.6 L931.1 142.9 L943.7 139.1 L956.2 135.7 L968.8 134.2 L981.3 130.8 L993.9 126.6 L1006.5 115.2" fill="none" stroke="#ffc830" stroke-width="1.15" stroke-linejoin="round" stroke-linecap="round" />
<path d="M21.4 357.3 L26.8 355.7 L39.3 349.3 L51.9 337.9 L64.5 328.4 L77 320 L89.6 313.9 L102.1 310.5 L114.7 310.5 L127.3 311.4 L139.8 307.2 L152.4 306 L164.9 303.5 L177.5 302.8 L190.1 306 L202.6 311 L215.2 318.3 L227.7 324.5 L240.3 330.4 L252.9 341.9 L265.4 336.8 L278 324.5 L290.5 305.2 L303.1 279.4 L315.7 254 L328.2 243.9 L340.8 238.8 L353.3 240.5 L365.9 250.3 L378.5 248.6 L391 247.2 L403.6 248.9 L416.1 254.8 L428.7 256.5 L441.3 253.5 L453.8 253.9 L466.4 255.1 L478.9 250.5 L491.5 246.3 L504.1 254.7 L516.6 260.6 L529.2 264.8 L541.7 275.8 L554.3 285 L566.9 298 L579.4 312.9 L592 323.9 L604.5 333.1 L617.1 350.5 L629.7 351.3 L642.2 347.1 L654.8 348.8 L667.3 340.7 L679.9 312.1 L692.5 288.5 L705 260.8 L717.6 242.3 L730.1 218.7 L742.7 206.1 L755.3 193.5 L767.8 187.7 L780.4 172.6 L792.9 172.3 L805.5 173.4 L818.1 174.6 L830.6 163.3 L843.2 152.4 L855.7 141.8 L868.3 142.8 L880.9 140.9 L893.4 145.4 L906 150 L918.5 151.3 L931.1 143.4 L943.7 136.7 L956.2 125.3 L968.8 118 L981.3 110.4 L993.9 108.8 L1006.5 92.3" fill="none" stroke="#b0b3eb" stroke-width="1.05" stroke-linejoin="round" stroke-linecap="round" />
</g>
<g id="xaxis">
<rect x="21" y="624.8" width="1256" height="1" fill="#999999"/>
<rect x="74.8" y="625" width="1" height="9.5" fill="#999999"/>
<rect x="137.8" y="625" width="1" height="9.5" fill="#999999"/>
<rect x="187.9" y="625" width="1" height="9.5" fill="#999999"/>
<rect x="250.6" y="625" width="1" height="9.5" fill="#999999"/>
<rect x="300.7" y="625" width="1" height="9.5" fill="#999999"/>
<rect x="363.9" y="625" width="1" height="9.5" fill="#999999"/>
<rect x="426.9" y="625" width="1" height="9.5" fill="#999999"/>
<rect x="488.9" y="625" width="1" height="9.5" fill="#999999"/>
<rect x="551.9" y="625" width="1" height="9.5" fill="#999999"/>
<rect x="614.9" y="625" width="1" height="9.5" fill="#999999"/>
<rect x="677.8" y="625" width="1" height="9.5" fill="#999999"/>
<rect x="740.8" y="625" width="1" height="9.5" fill="#999999"/>
<rect x="800.8" y="625" width="1" height="9.5" fill="#999999"/>
<rect x="854" y="625" width="1" height="9.5" fill="#999999"/>
<rect x="915.9" y="625" width="1" height="9.5" fill="#999999"/>
<rect x="979" y="625" width="1" height="9.5" fill="#999999"/>
<rect x="1042" y="625" width="1" height="9.5" fill="#999999"/>
<rect x="1105" y="625" width="1" height="9.5" fill="#999999"/>
<rect x="1168" y="625" width="1" height="9.5" fill="#999999"/>
<rect x="1230" y="625" width="1" height="9.5" fill="#999999"/>
</g>
<rect x="1250" y="26" width="36" height="19" rx="3" fill="#777777"/>
</svg>
<div class="t ax" style="left:1258px;top:128.3px;">7.00</div>
<div class="t ax" style="left:1258px;top:217.2px;">6.00</div>
<div class="t ax" style="left:1258px;top:306.4px;">5.00</div>
<div class="t ax" style="left:1258px;top:396.1px;">4.00</div>
<div class="t ax r" style="left:1176.5px;width:100px;top:463.3px;">50.00</div>
<div class="t ax r" style="left:1176.5px;width:100px;top:510.2px;">100.00</div>
<div class="t ax r" style="left:1176.5px;width:100px;top:562.8px;">50.00</div>
<div class="t ax r" style="left:1176.5px;width:100px;top:617.3px;">0.00</div>
<div class="t tz" style="left:1126.8px;width:150px;top:611.5px;">Your local time zone</div>
<div class="t xl" style="left:35.3px;top:633px;">9. Jun</div>
<div class="t xl" style="left:98.3px;top:633px;">16. Jun</div>
<div class="t xl" style="left:148.4px;top:633px;">23. Jun</div>
<div class="t xl" style="left:211.1px;top:633px;">30. Jun</div>
<div class="t xl" style="left:261.2px;top:633px;">7. Jul</div>
<div class="t xl" style="left:324.4px;top:633px;">14. Jul</div>
<div class="t xl" style="left:387.4px;top:633px;">21. Jul</div>
<div class="t xl" style="left:449.4px;top:633px;">28. Jul</div>
<div class="t xl" style="left:512.4px;top:633px;">4. Aug</div>
<div class="t xl" style="left:575.4px;top:633px;">11. Aug</div>
<div class="t xl" style="left:638.3px;top:633px;">18. Aug</div>
<div class="t xl" style="left:701.3px;top:633px;">25. Aug</div>
<div class="t xl" style="left:761.3px;top:633px;">1. Sep</div>
<div class="t xl" style="left:814.5px;top:633px;">8. Sep</div>
<div class="t xl" style="left:876.4px;top:633px;">15. Sep</div>
<div class="t xl" style="left:939.5px;top:633px;">22. Sep</div>
<div class="t xl" style="left:1002.5px;top:633px;">29. Sep</div>
<div class="t xl" style="left:1065.5px;top:633px;">6. Oct</div>
<div class="t xl" style="left:1128.5px;top:633px;">13. Oct</div>
<div class="t xl" style="left:1190.5px;top:633px;">20. Oct</div>
<div class="t pl" style="left:1251px;top:27.3px;width:36px;">8.18</div>
<div class="t cp" style="left:19.5px;top:655.6px;">©2025 TrendSpider</div>
<div class="t ttl" style="left:23px;top:92.5px;">SHLS, Daily, Hollow Candles chart</div>
<div class="t dt" style="left:233px;top:28.5px;">Sep 24, 2025 1:24PM EDT</div>
<svg id="logo" width="1307" height="90" viewBox="0 0 1307 90">
<g fill="none" stroke="#35a341" stroke-width="1.05">
<path d="M27 31.4 L29.9 36.9 L27 42.5"/>
<circle cx="22.3" cy="36.6" r="2.1"/>
<circle cx="27" cy="29.6" r="1.7"/>
<circle cx="29.9" cy="36.9" r="1.4"/>
<circle cx="27" cy="44.6" r="2.1"/>
<circle cx="34" cy="32" r="1.7"/>
<circle cx="38.4" cy="27.3" r="2.1"/>
<circle cx="35.5" cy="39" r="1.7"/>
<circle cx="42.3" cy="41.9" r="2.1"/>
</g>
<g font-family="Liberation Sans, sans-serif" font-size="22.4">
<text x="50" y="42.7" font-weight="bold" fill="#000" stroke="#000" stroke-width="0.35" textLength="67" lengthAdjust="spacingAndGlyphs">Trend</text>
<text x="117.4" y="42.7" fill="#111" stroke="#fff" stroke-width="0.55" paint-order="fill stroke" textLength="73.8" lengthAdjust="spacingAndGlyphs">Spider</text>
</g>
<g font-family="Liberation Sans, sans-serif" font-weight="bold" filter="url(#sh)" stroke-width="1.35" stroke-linejoin="round">
<text x="23.6" y="75.4" font-size="20.6" fill="url(#gg)" stroke="url(#gg)" textLength="47" lengthAdjust="spacingAndGlyphs">Live</text>
<text x="72.2" y="75.4" font-size="20.6" fill="url(#gb)" stroke="url(#gb)" textLength="66.2" lengthAdjust="spacingAndGlyphs">Trade</text>
<text x="141.6" y="75.4" font-size="20.6" fill="url(#gg)" stroke="url(#gg)" textLength="37.2" lengthAdjust="spacingAndGlyphs">Pro</text>
<text x="181" y="75.4" font-size="15" fill="#555" stroke="#555" stroke-width="0.9" textLength="35.4" lengthAdjust="spacingAndGlyphs">.com</text>
</g>
<path d="M20 36 H1250" stroke="#a7b0a7" stroke-width="1.8" stroke-dasharray="4 3" stroke-dashoffset="-0.9" fill="none" opacity="0.85"/>
</svg>
</body></html>
